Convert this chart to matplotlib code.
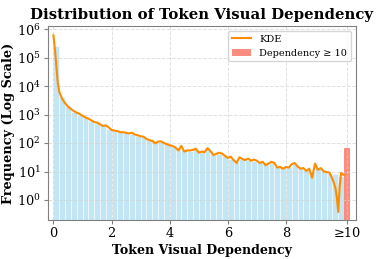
import numpy as np
import matplotlib
matplotlib.use('Agg')
import matplotlib.pyplot as plt

# histogram bins (width 0.2, from 0 to 10)
bin_left = np.arange(0, 10, 0.2)
bin_counts = [250000, 4000, 2000, 1250, 1000, 800, 600, 500, 420, 320,
              280, 250, 235, 215, 180, 160, 125, 105, 112, 90,
              80, 60, 56, 52, 60, 48, 60, 40, 42, 35,
              28, 24, 28, 25, 24, 21, 18, 20, 16, 14,
              14, 18, 14, 11, 10, 14, 10.5, 9, 8, 7]
over_count = 65  # dependency >= 10

# KDE curve
kde_x = [0.0, 0.05, 0.1, 0.15, 0.2, 0.3, 0.4, 0.5, 0.6, 0.7, 0.8, 0.9,
         1.0, 1.1, 1.2, 1.3, 1.4, 1.5, 1.6, 1.7, 1.8, 1.9, 2.0, 2.1,
         2.2, 2.3, 2.4, 2.5, 2.6, 2.7, 2.8, 2.9, 3.0, 3.1, 3.2, 3.3,
         3.4, 3.5, 3.6, 3.7, 3.8, 3.9, 4.0, 4.1, 4.2, 4.3, 4.4, 4.5,
         4.6, 4.7, 4.8, 4.9, 5.0, 5.1, 5.2, 5.3, 5.4, 5.5, 5.6, 5.7,
         5.8, 5.9, 6.0, 6.1, 6.2, 6.3, 6.4, 6.5, 6.6, 6.7, 6.8, 6.9,
         7.0, 7.1, 7.2, 7.3, 7.4, 7.5, 7.6, 7.7, 7.8, 7.9, 8.0, 8.1,
         8.2, 8.3, 8.4, 8.5, 8.6, 8.7, 8.8, 8.9, 9.0, 9.1, 9.2, 9.3,
         9.4, 9.5, 9.6, 9.65, 9.7, 9.75, 9.8, 9.85, 9.9, 9.95, 10.0]
kde_logy = [5.78, 5.3, 4.7, 4.1, 3.8, 3.55, 3.4, 3.28, 3.2, 3.12, 3.07, 3.02,
            2.96, 2.9, 2.86, 2.8, 2.74, 2.72, 2.66, 2.6, 2.62, 2.55, 2.46, 2.44,
            2.42, 2.38, 2.38, 2.36, 2.34, 2.36, 2.3, 2.27, 2.24, 2.22, 2.15, 2.1,
            2.08, 1.99, 2.05, 2.06, 2.0, 1.96, 1.92, 1.9, 1.84, 1.74, 1.9, 1.7,
            1.74, 1.74, 1.76, 1.8, 1.66, 1.7, 1.68, 1.82, 1.72, 1.58, 1.62, 1.66,
            1.63, 1.55, 1.48, 1.52, 1.4, 1.3, 1.5, 1.44, 1.4, 1.45, 1.38, 1.42,
            1.38, 1.3, 1.34, 1.22, 1.28, 1.34, 1.3, 1.14, 1.16, 1.1, 1.16, 1.14,
            1.26, 1.3, 1.18, 1.1, 1.12, 1.02, 1.1, 0.78, 1.28, 1.06, 1.12, 1.0,
            0.98, 0.96, 0.74, 0.6, 0.42, 0.1, -0.42, 0.5, 0.95, 0.9, 0.88]
kde_y = 10 ** np.array(kde_logy)

plt.rcParams['font.family'] = ['DejaVu Serif']
plt.rcParams['mathtext.fontset'] = 'dejavuserif'

fig = plt.figure(figsize=(3.78, 2.59), dpi=100)
ax = fig.add_axes([0.126, 0.151, 0.815, 0.749])

ax.bar(bin_left, bin_counts, width=0.2, align='edge', color='skyblue',
       alpha=0.5, edgecolor='white', linewidth=0.8)
ax.bar(10.0, over_count, width=0.2, align='edge', color='salmon',
       alpha=0.9, label='Dependency ≥ 10')
ax.plot(kde_x, kde_y, color='darkorange', linewidth=1.5, label='KDE')

ax.set_yscale('log')
ax.set_ylim(0.2, 1.3e6)
ax.set_xlim(-0.2, 10.4)
ax.set_xticks([0, 2, 4, 6, 8, 10.1])
ax.set_xticklabels(['0', '2', '4', '6', '8', '≥10'])
ax.set_yticks([1, 10, 100, 1e3, 1e4, 1e5, 1e6])
ax.minorticks_off()
ax.tick_params(labelsize=9.3, length=3, color='gray', pad=2)

ax.grid(True, linestyle='--', color='lightgray', alpha=0.7, linewidth=0.7)
for s in ax.spines.values():
    s.set_color('gray')

ax.set_title('Distribution of Token Visual Dependency', fontsize=10.7,
             fontweight='bold', pad=5)
ax.set_xlabel('Token Visual Dependency', fontsize=9.1, fontweight='bold',
              labelpad=3)
ax.set_ylabel('Frequency (Log Scale)', fontsize=9.3, fontweight='bold',
              labelpad=1)

ax.legend(loc='upper right', fontsize=7)

fig.savefig('out.png', dpi=100)
